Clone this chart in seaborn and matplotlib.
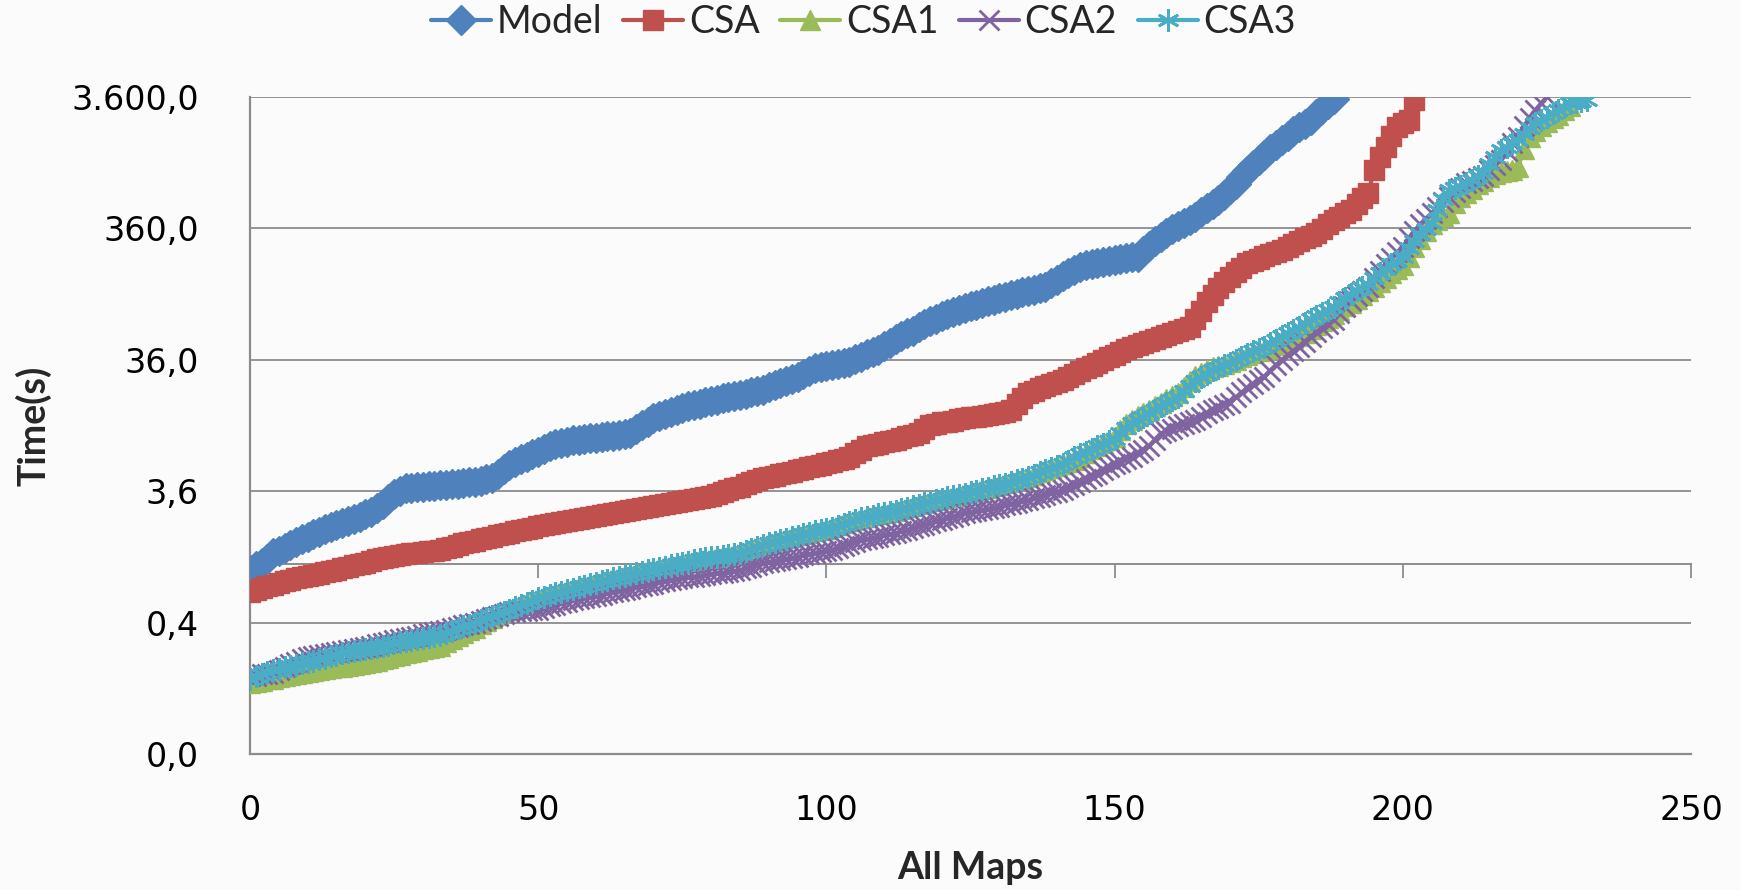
import numpy as np
import pandas as pd
import matplotlib
matplotlib.use("Agg")
import matplotlib.pyplot as plt
import seaborn as sns
from matplotlib.ticker import NullLocator

# ---------------- data (times in seconds, sorted per solver) ----------------
model = [0.90,0.97,1.03,1.10,1.21,1.26,1.33,1.40,1.47,1.55,1.62,1.70,1.77,1.85,1.92,1.98,2.05,2.13,2.22,2.31,
         2.40,2.50,2.70,2.90,3.15,3.40,3.60,3.80,3.83,3.86,3.90,3.93,3.97,4.00,4.04,4.08,4.12,4.17,4.21,4.25,
         4.33,4.42,4.50,4.90,5.30,5.70,6.00,6.30,6.60,6.90,7.20,7.55,7.95,8.30,8.45,8.60,8.80,8.90,9.00,9.10,
         9.20,9.30,9.40,9.55,9.70,9.85,10.0,10.7,11.4,12.1,12.9,13.4,13.9,14.4,14.9,15.4,15.9,16.3,16.7,17.1,
         17.5,17.9,18.3,18.7,19.1,19.5,19.9,20.4,20.8,21.3,22.2,23.1,24.0,24.9,25.8,26.8,28.2,29.6,31.0,31.6,
         32.3,32.9,33.5,34.2,34.8,36.4,38.0,39.6,41.2,42.8,45.7,48.6,51.5,54.4,57.2,60.0,63.5,67.0,70.5,74.0,
         77.5,81.0,83.7,86.3,89.0,91.7,94.3,97.0,100,103,106,109,112,115,118,120,123,126,129,138,
         147,156,165,175,184,188,192,196,199,203,207,210,214,217,220,243,265,288,311,333,
         355,377,398,420,442,480,518,555,593,650,720,790,890,990,1090,1190,1310,1440,1560,1690,
         1830,1970,2110,2260,2400,2650,2920,3200,3500]

csa = [0.62,0.64,0.66,0.68,0.70,0.72,0.74,0.76,0.78,0.80,0.81,0.83,0.85,0.87,0.89,0.91,0.93,0.95,0.98,1.00,
       1.03,1.06,1.09,1.11,1.14,1.16,1.17,1.19,1.21,1.22,1.24,1.26,1.27,1.29,1.32,1.36,1.40,1.44,1.47,1.51,
       1.55,1.58,1.62,1.66,1.70,1.74,1.78,1.82,1.86,1.90,1.95,1.99,2.03,2.07,2.11,2.15,2.19,2.23,2.27,2.30,
       2.34,2.38,2.42,2.46,2.50,2.54,2.59,2.63,2.67,2.72,2.77,2.83,2.88,2.93,2.99,3.04,3.09,3.14,3.20,3.25,
       3.30,3.43,3.57,3.70,3.80,3.90,4.05,4.20,4.35,4.50,4.62,4.73,4.85,4.97,5.08,5.20,5.33,5.47,5.60,5.73,
       5.87,6.00,6.17,6.33,6.50,6.97,7.43,7.90,8.10,8.30,8.50,8.65,8.80,9.10,9.40,9.70,10.0,10.8,11.5,11.7,
       12.0,12.2,12.4,12.7,12.9,13.1,13.3,13.5,13.7,13.9,14.1,14.5,15.0,16.7,18.3,20.0,20.9,21.8,22.6,23.5,
       24.4,25.3,26.7,28.2,29.6,31.0,32.5,33.9,35.8,37.6,39.5,41.3,43.2,45.0,46.8,48.6,50.4,52.2,54.0,56.0,
       58.0,60.0,62.0,64.0,74.0,85.0,99,112,126,140,154,168,181,195,204,212,221,230,238,247,
       261,275,289,303,317,331,359,386,414,442,469,497,553,609,665,1000,1250,1500,1820,2140,
       2270,2400,3400]

csa1 = [0.125,0.128,0.130,0.133,0.135,0.138,0.141,0.144,0.147,0.150,0.152,0.155,0.157,0.160,0.162,0.164,0.166,0.169,0.172,0.175,
        0.178,0.180,0.185,0.190,0.195,0.200,0.205,0.210,0.215,0.220,0.225,0.230,0.235,0.240,0.255,0.270,0.285,0.300,0.315,0.330,
        0.350,0.370,0.390,0.410,0.430,0.450,0.470,0.490,0.510,0.530,0.555,0.572,0.590,0.607,0.624,0.640,0.658,0.675,0.693,0.710,
        0.728,0.746,0.765,0.785,0.805,0.825,0.845,0.865,0.885,0.905,0.925,0.945,0.965,0.985,1.00,1.02,1.04,1.06,1.08,1.10,
        1.12,1.14,1.16,1.18,1.20,1.22,1.27,1.32,1.36,1.41,1.45,1.49,1.54,1.58,1.62,1.66,1.70,1.74,1.79,1.83,
        1.87,1.91,1.98,2.05,2.12,2.19,2.26,2.31,2.36,2.41,2.46,2.51,2.56,2.64,2.71,2.79,2.86,2.94,3.01,3.09,
        3.16,3.24,3.31,3.39,3.46,3.55,3.64,3.74,3.83,3.92,4.01,4.13,4.25,4.37,4.49,4.62,4.82,5.02,5.22,5.42,
        5.62,5.82,6.00,6.20,6.50,7.00,7.50,8.00,8.40,8.80,9.30,10.5,11.6,12.5,13.4,14.2,15.0,16.0,17.0,18.0,
        19.0,20.0,22.5,25.0,27.0,28.5,30.0,31.5,32.5,33.5,34.5,36.0,37.5,39.0,40.5,42.0,43.0,44.5,46.5,48.5,
        50.5,52.5,54.5,58.0,62.0,66.0,70.5,75.0,80.0,86.0,92.0,98.0,105,112,120,130,141,152,164,176,
        188,220,260,300,345,390,420,450,475,560,620,665,720,780,830,880,930,960,985,1000,
        1050,1450,1800,2000,2180,2330,2480,2640,2860,3100,3600]

csa2 = [0.140,0.142,0.145,0.147,0.150,0.158,0.166,0.174,0.182,0.190,0.198,0.202,0.205,0.209,0.213,0.216,0.220,0.224,0.228,0.232,
        0.236,0.240,0.246,0.252,0.258,0.264,0.270,0.275,0.281,0.287,0.293,0.299,0.305,0.310,0.318,0.327,0.335,0.343,0.352,0.360,
        0.372,0.383,0.395,0.407,0.418,0.430,0.434,0.438,0.442,0.446,0.450,0.464,0.478,0.493,0.507,0.521,0.535,0.546,0.557,0.568,
        0.578,0.589,0.600,0.613,0.627,0.640,0.653,0.667,0.680,0.696,0.712,0.728,0.744,0.760,0.772,0.783,0.795,0.807,0.818,0.830,
        0.842,0.853,0.865,0.877,0.888,0.900,0.930,0.960,0.990,1.02,1.04,1.06,1.08,1.10,1.12,1.14,1.17,1.19,1.22,1.24,
        1.27,1.29,1.34,1.39,1.43,1.48,1.53,1.56,1.59,1.62,1.66,1.69,1.72,1.78,1.83,1.89,1.94,2.00,2.05,2.12,
        2.18,2.25,2.31,2.38,2.44,2.49,2.54,2.59,2.65,2.70,2.75,2.82,2.89,2.95,3.02,3.09,3.19,3.28,3.38,3.48,
        3.57,3.67,3.85,4.02,4.20,4.43,4.67,4.90,5.18,5.47,5.75,6.03,6.32,6.60,7.03,7.47,7.90,8.90,9.90,10.3,
        10.8,11.2,11.6,12.1,12.5,13.3,14.1,14.9,15.6,16.3,17.0,18.6,20.3,21.9,23.5,25.2,26.8,29.8,32.9,35.9,
        38.9,42.0,45.0,49.5,54.0,58.5,63.0,67.5,72.0,81.5,91.0,101,110,120,129,151,172,194,216,238,
        260,302,344,386,428,470,520,570,620,677,735,792,828,864,900,997,1095,1192,1395,1597,
        1800,2153,2507,2860,3230,3600]

csa3 = [0.135,0.140,0.146,0.151,0.157,0.161,0.165,0.169,0.172,0.176,0.180,0.185,0.190,0.195,0.200,0.205,0.210,0.214,0.218,0.222,
        0.226,0.230,0.235,0.240,0.245,0.250,0.255,0.260,0.265,0.270,0.275,0.280,0.285,0.290,0.302,0.313,0.325,0.337,0.348,0.360,
        0.375,0.390,0.405,0.420,0.435,0.450,0.470,0.490,0.510,0.530,0.550,0.567,0.583,0.600,0.617,0.633,0.650,0.668,0.687,0.705,
        0.723,0.742,0.760,0.780,0.800,0.820,0.840,0.860,0.880,0.900,0.920,0.940,0.960,0.980,1.00,1.02,1.05,1.07,1.09,1.11,
        1.13,1.14,1.16,1.18,1.19,1.21,1.26,1.31,1.35,1.40,1.44,1.48,1.53,1.57,1.61,1.65,1.69,1.73,1.78,1.82,
        1.86,1.90,1.97,2.04,2.11,2.18,2.25,2.30,2.35,2.40,2.45,2.50,2.55,2.63,2.70,2.78,2.85,2.93,3.00,3.08,
        3.15,3.23,3.30,3.38,3.45,3.54,3.63,3.73,3.82,3.91,4.00,4.12,4.24,4.36,4.48,4.60,4.80,5.00,5.20,5.40,
        5.60,5.80,6.15,6.50,6.85,7.20,7.55,7.90,8.27,8.63,9.00,9.90,10.9,11.8,12.6,13.3,14.1,15.0,15.9,16.9,
        17.9,18.9,20.9,22.9,25.0,26.7,28.3,30.0,31.3,32.7,34.0,36.0,38.0,40.0,41.7,43.3,45.0,48.2,51.3,54.5,
        57.7,60.8,64.0,68.5,73.0,77.5,82.0,86.5,91.0,98.7,106,114,122,129,137,151,164,178,192,205,
        219,254,289,324,359,394,498,602,706,735,763,792,845,897,950,1107,1263,1420,1510,1600,
        1690,1883,2077,2270,2413,2557,2700,2873,3047,3220,3280,3340,3400]

series_names = ["Model", "CSA", "CSA1", "CSA2", "CSA3"]
series_values = [model, csa, csa1, csa2, csa3]
colors = ["#4F81BD", "#C0504D", "#9BBB59", "#8064A2", "#4BACC6"]
markers = ["D", "s", "^", "x", (6, 2, 0)]
marker_sizes = [15, 14, 15, 15, 16]

x_ticks = [0, 50, 100, 150, 200, 250]
x_ticklabels = ["0", "50", "100", "150", "200", "250"]
y_ticks = [0.036, 0.36, 3.6, 36, 360, 3600]
y_ticklabels = ["0,0", "0,4", "3,6", "36,0", "360,0", "3.600,0"]
x_label = "All Maps"
y_label = "Time(s)"
axis_cross_value = 1.0   # horizontal axis crosses the log value axis at 1

# ---------------- build long table ----------------
frames = []
for name, vals in zip(series_names, series_values):
    frames.append(pd.DataFrame({"map": np.arange(len(vals)), "time": vals, "solver": name}))
df = pd.concat(frames, ignore_index=True)

# ---------------- figure ----------------
sns.set_style("white")
plt.rcParams["font.family"] = ["DejaVu Sans"]
bg = "#fbfbfb"
grid_c = "#8c8c8c"

fig = plt.figure(figsize=(17.41, 8.90), dpi=100, facecolor=bg)
ax = fig.add_axes([250 / 1741, 1 - 754 / 890, 1441 / 1741, 657 / 890])
ax.set_facecolor(bg)

for name, c, m, ms in zip(series_names, colors, markers, marker_sizes):
    sub = df[df["solver"] == name]
    filled = m in ("D", "s", "^")
    sns.lineplot(data=sub, x="map", y="time", ax=ax, color=c, label=name,
                 linewidth=3, marker=m, markersize=ms,
                 markeredgecolor=c, markerfacecolor=c if filled else "none",
                 markeredgewidth=1.0 if filled else 2.0,
                 estimator=None, sort=False, zorder=3)

ax.set_yscale("log")
ax.set_ylim(y_ticks[0], y_ticks[-1])
ax.set_xlim(x_ticks[0], x_ticks[-1])
ax.set_yticks(y_ticks)
ax.set_yticklabels(y_ticklabels)
ax.yaxis.set_minor_locator(NullLocator())
ax.set_xticks(x_ticks)
ax.set_xticklabels(x_ticklabels)

ax.set_axisbelow(True)
ax.yaxis.grid(True, color=grid_c, linewidth=1.3)
ax.xaxis.grid(False)
for s in ["top", "right"]:
    ax.spines[s].set_visible(False)
for s in ["left", "bottom"]:
    ax.spines[s].set_color(grid_c)
    ax.spines[s].set_linewidth(1.6)

ax.tick_params(axis="y", direction="out", length=11, width=1.3, color=grid_c,
               pad=26, labelsize=24, labelcolor="black")
ax.tick_params(axis="x", length=0, pad=29, labelsize=24, labelcolor="black")

# horizontal category axis drawn where it crosses the value axis (y = 1)
lo, hi = np.log10(y_ticks[0]), np.log10(y_ticks[-1])
frac = (np.log10(axis_cross_value) - lo) / (hi - lo)
sec = ax.secondary_xaxis(frac)
sec.set_xticks(x_ticks)
sec.set_xticklabels([""] * len(x_ticks))
sec.tick_params(axis="x", direction="out", length=10, width=1.3, color=grid_c)
sec.spines["bottom"].set_color(grid_c)
sec.spines["bottom"].set_linewidth(1.4)

lab_font = dict(family=["Lato", "DejaVu Sans"], weight="bold", size=27)
ax.set_xlabel(x_label, va="center", **lab_font)
ax.set_ylabel(y_label, va="center", **lab_font)
ax.xaxis.set_label_coords(0.5, (754 - 868) / 657)
ax.yaxis.set_label_coords((33 - 250) / 1441, 0.5)

leg = ax.legend(loc="center", bbox_to_anchor=(0.496, 0.975), bbox_transform=fig.transFigure,
                ncol=5, frameon=False, handlelength=1.6, handletextpad=0.15,
                columnspacing=0.55, prop=dict(family=["Lato", "DejaVu Sans"], size=27))

fig.savefig("out.png", dpi=100, facecolor=bg)
